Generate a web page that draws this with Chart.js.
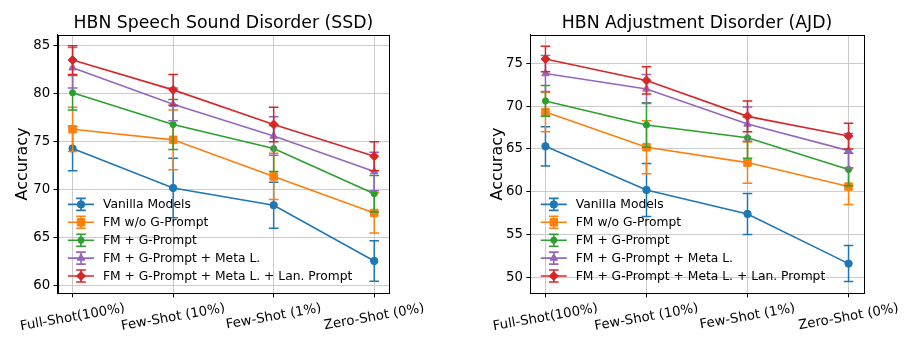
<!DOCTYPE html>
<html><head><meta charset="utf-8">
<script src="https://cdn.jsdelivr.net/npm/chart.js@4.4.1/dist/chart.umd.min.js"></script>
<style>
html,body{margin:0;padding:0;background:#fff;width:914px;height:346px;overflow:hidden}
canvas{position:absolute;top:0}
</style></head>
<body>
<canvas id="c1" width="457" height="346" style="left:0"></canvas>
<canvas id="c2" width="457" height="346" style="left:457px"></canvas>
<script>
// ---------- data ----------
const categories = ['Full-Shot(100%)', 'Few-Shot (10%)', 'Few-Shot (1%)', 'Zero-Shot (0%)'];
const seriesNames = ['Vanilla Models', 'FM w/o G-Prompt', 'FM + G-Prompt', 'FM + G-Prompt + Meta L.', 'FM + G-Prompt + Meta L. + Lan. Prompt'];

const ssdVanilla = [74.3, 70.2, 68.4, 62.6];
const ssdNoGPrompt = [76.3, 75.2, 71.4, 67.6];
const ssdGPrompt = [80.1, 76.8, 74.3, 69.6];
const ssdMeta = [82.7, 78.9, 75.6, 71.9];
const ssdLanPrompt = [83.5, 80.4, 76.8, 73.5];

const ajdVanilla = [65.3, 60.2, 57.4, 51.6];
const ajdNoGPrompt = [69.3, 65.2, 63.4, 60.6];
const ajdGPrompt = [70.6, 67.8, 66.3, 62.6];
const ajdMeta = [73.8, 72.0, 67.9, 64.8];
const ajdLanPrompt = [75.5, 73.0, 68.8, 66.5];

const errVanilla = [2.3, 3.1, 2.4, 2.1];
const errNoGPrompt = [2.3, 3.1, 2.4, 2.1];
const errGPrompt = [1.8, 2.6, 2.4, 1.9];
const errMeta = [2.1, 1.7, 2.0, 2.0];
const errLanPrompt = [1.5, 1.6, 1.8, 1.5];

const ssdTicks = [60, 65, 70, 75, 80, 85];
const ajdTicks = [50, 55, 60, 65, 70, 75];
const categoryTicks = [0, 1, 2, 3];

// ---------- style ----------
const FONT = '"DejaVu Sans", "Liberation Sans", sans-serif';
const colors = ['#1f77b4', '#ff7f0e', '#2ca02c', '#9467bd', '#d62728'];
const markers = [
  {style: 'circle', r: 3.7},
  {style: 'rect', r: 5.3},
  {style: 'circle', r: 3.1},
  {style: 'triangle', r: 4.3},
  {style: 'rectRot', r: 4.5}
];

function buildDatasets(seriesVals, seriesErr) {
  return seriesVals.map((vals, i) => ({
    label: seriesNames[i],
    data: vals.map((v, k) => ({x: k, y: v})),
    errors: seriesErr[i],
    borderColor: colors[i],
    backgroundColor: colors[i],
    pointBackgroundColor: colors[i],
    pointBorderColor: colors[i],
    pointBorderWidth: 1,
    pointStyle: markers[i].style,
    pointRadius: markers[i].r,
    borderWidth: 1.6,
    tension: 0,
    fill: false,
    order: seriesVals.length - 1 - i
  }));
}

const errorBarPlugin = {
  id: 'errorBars',
  beforeDatasetDraw(chart, args) {
    const ds = chart.data.datasets[args.index];
    const meta = args.meta;
    const ys = chart.scales.y;
    const ctx = chart.ctx;
    ctx.save();
    ctx.strokeStyle = ds.borderColor;
    ctx.lineWidth = 1.5;
    meta.data.forEach((pt, k) => {
      const v = ds.data[k].y, e = ds.errors[k];
      const x = pt.x;
      const yTop = ys.getPixelForValue(v + e);
      const yBot = ys.getPixelForValue(v - e);
      ctx.beginPath();
      ctx.moveTo(x, yTop); ctx.lineTo(x, yBot);
      ctx.moveTo(x - 4.8, yTop); ctx.lineTo(x + 4.8, yTop);
      ctx.moveTo(x - 4.8, yBot); ctx.lineTo(x + 4.8, yBot);
      ctx.stroke();
    });
    ctx.restore();
  },
  afterDatasetsDraw(chart) {
    const ctx = chart.ctx;
    const a = chart.chartArea;
    // frame (all four spines)
    ctx.save();
    ctx.strokeStyle = '#000';
    ctx.lineWidth = 1;
    ctx.strokeRect(Math.round(a.left) + 0.5, Math.round(a.top) + 0.5, Math.round(a.right) - Math.round(a.left), Math.round(a.bottom) - Math.round(a.top));
    ctx.restore();

    // legend (lower left, no frame)
    ctx.save();
    const n = chart.data.datasets.length;
    chart.data.datasets.forEach((ds, i) => {
      const rowY = a.bottom - 17.3 - (n - 1 - i) * 17.9;
      const x0 = a.left + 10.5, x1 = a.left + 36.5, xm = (x0 + x1) / 2;
      ctx.strokeStyle = ds.borderColor;
      ctx.fillStyle = ds.borderColor;
      ctx.lineWidth = 1.6;
      ctx.beginPath();
      ctx.moveTo(x0, rowY); ctx.lineTo(x1, rowY);
      ctx.moveTo(xm, rowY - 6); ctx.lineTo(xm, rowY + 6);
      ctx.moveTo(xm - 4.8, rowY - 6); ctx.lineTo(xm + 4.8, rowY - 6);
      ctx.moveTo(xm - 4.8, rowY + 6); ctx.lineTo(xm + 4.8, rowY + 6);
      ctx.stroke();
      ctx.lineWidth = 1;
      Chart.helpers.drawPoint(ctx, {pointStyle: ds.pointStyle, radius: ds.pointRadius, rotation: 0, borderWidth: 1}, xm, rowY);
      ctx.fillStyle = '#000';
      ctx.font = '12.3px ' + FONT;
      ctx.textAlign = 'left';
      ctx.textBaseline = 'middle';
      ctx.fillText(ds.label, a.left + 45.5, rowY + 0.5);
    });
    ctx.restore();
  },
  afterDraw(chart) {
    // rotated x tick labels, centred under ticks (10 degrees)
    const ctx = chart.ctx;
    const xs = chart.scales.x;
    const a = chart.chartArea;
    const ang = 10 * Math.PI / 180;
    ctx.save();
    ctx.fillStyle = '#000';
    ctx.font = '13.3px ' + FONT;
    ctx.textAlign = 'center';
    ctx.textBaseline = 'middle';
    categoryTicks.forEach((v, i) => {
      const label = categories[i];
      const w = ctx.measureText(label).width;
      const h = 13.3 * 1.1;
      const bbH = w * Math.sin(ang) + h * Math.cos(ang);
      const x = xs.getPixelForValue(v);
      const top = a.bottom + 4 + 3.8;
      ctx.save();
      ctx.translate(x, top + bbH / 2);
      ctx.rotate(-ang);
      ctx.fillText(label, 0, 0);
      ctx.restore();
    });
    ctx.restore();
  }
};

function makeChart(canvasId, title, seriesVals, yTicks, yMin, yMax, pad) {
  const seriesErr = [errVanilla, errNoGPrompt, errGPrompt, errMeta, errLanPrompt];
  return new Chart(document.getElementById(canvasId), {
    type: 'line',
    data: {datasets: buildDatasets(seriesVals, seriesErr)},
    options: {
      responsive: false,
      animation: false,
      devicePixelRatio: 1,
      layout: {padding: {left: pad.left, right: pad.right, top: 0, bottom: 0}},
      plugins: {
        legend: {display: false},
        tooltip: {enabled: false},
        title: {
          display: true, text: title, fullSize: false, color: '#000',
          font: {family: FONT, size: 17.3, weight: 'normal', lineHeight: 1.2},
          padding: {top: 13.6, bottom: 0.34}
        }
      },
      scales: {
        x: {
          type: 'linear', min: -0.15, max: 3.15,
          afterBuildTicks: s => { s.ticks = categoryTicks.map(v => ({value: v})); },
          afterFit: s => { s.height = 52.7; },
          ticks: {display: false},
          grid: {color: '#cbcbcb', lineWidth: 1, tickColor: '#000', tickLength: 4, drawTicks: true},
          border: {color: '#000', width: 1}
        },
        y: {
          type: 'linear', min: yMin, max: yMax,
          afterBuildTicks: s => { s.ticks = yTicks.map(v => ({value: v})); },
          afterFit: s => { s.width = pad.yWidth; },
          ticks: {color: '#000', font: {family: FONT, size: 13.3}, padding: 3.3},
          grid: {color: '#cbcbcb', lineWidth: 1, tickColor: '#000', tickLength: 4, drawTicks: true},
          border: {color: '#000', width: 1},
          title: {display: true, text: 'Accuracy', color: '#000', font: {family: FONT, size: 16, lineHeight: 1.2}, padding: {top: 0, bottom: 0}}
        }
      }
    },
    plugins: [errorBarPlugin]
  });
}

makeChart('c1', 'HBN Speech Sound Disorder (SSD)',
  [ssdVanilla, ssdNoGPrompt, ssdGPrompt, ssdMeta, ssdLanPrompt],
  ssdTicks, 59.24, 86.14, {left: 12.9, yWidth: 44.6, right: 67.7});
makeChart('c2', 'HBN Adjustment Disorder (AJD)',
  [ajdVanilla, ajdNoGPrompt, ajdGPrompt, ajdMeta, ajdLanPrompt],
  ajdTicks, 48.13, 78.34, {left: 30.9, yWidth: 42.4, right: 50.3});
</script>
</body></html>
